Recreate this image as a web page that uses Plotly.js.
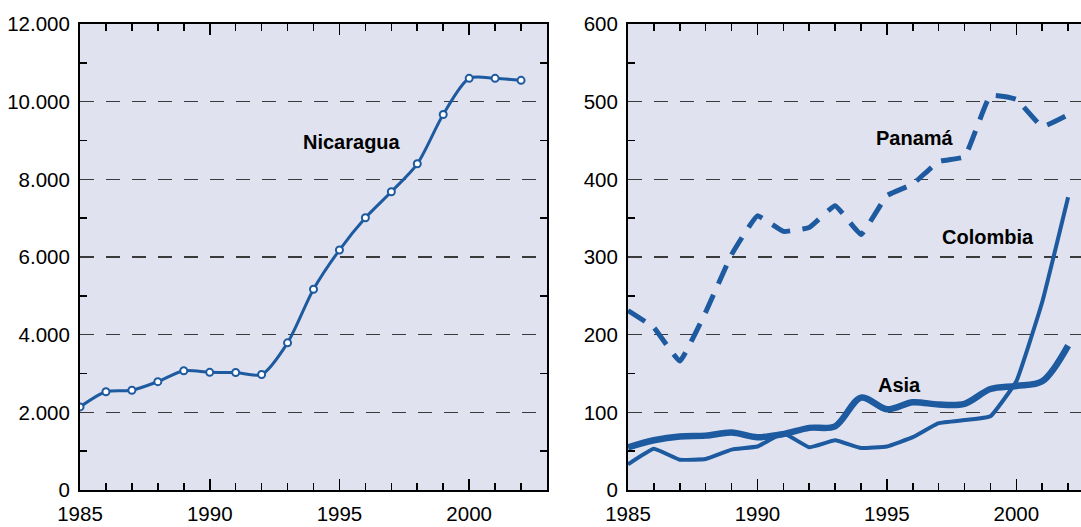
<!DOCTYPE html>
<html>
<head>
<meta charset="utf-8">
<script src="https://cdn.plot.ly/plotly-3.0.1.min.js"></script>
<style>
html,body{margin:0;padding:0;overflow:hidden;background:#fff;}
#chart{width:1100px;height:527px;}
</style>
</head>
<body>
<div id="chart"></div>
<script>
const years = [1985,1986,1987,1988,1989,1990,1991,1992,1993,1994,1995,1996,1997,1998,1999,2000,2001,2002];
const nicaragua = [2140,2530,2570,2790,3070,3030,3025,2975,3790,5170,6180,7010,7680,8400,9670,10600,10600,10550];
const panama = [231,209,166,229,303,353,333,338,366,329,379,394,423,429,508,503,468,483];
const colombia = [33,53,39,40,52,56,73,55,64,54,56,68,86,90,95,140,242,377];
const asia = [55,64,69,70,74,68,72,80,82,119,104,113,110,111,130,134,140,186];
const labelsLeft = [{text:'Nicaragua', x:1995.5, y:8950}];
const labelsRight = [
  {text:'Panamá', x:1996.1, y:453},
  {text:'Colombia', x:1998.9, y:326},
  {text:'Asia', x:1995.5, y:135}
];

const BLUE = '#1d5aa0';
const W = 1100;
const font = {family:'Liberation Sans, Arial, sans-serif', size:20.5, color:'#000'};
const annFont = {family:'Liberation Sans, Arial, sans-serif', size:20, color:'#000', weight:'bold'};

const traces = [
  {x:years, y:nicaragua, xaxis:'x', yaxis:'y', mode:'lines+markers', type:'scatter',
   line:{color:BLUE, width:3, shape:'spline', smoothing:0.8},
   marker:{symbol:'circle', size:7, color:'#fff', line:{color:BLUE, width:2}}},
  {x:years, y:panama, xaxis:'x2', yaxis:'y2', mode:'lines', type:'scatter',
   line:{color:BLUE, width:5, dash:'20px,12px', shape:'spline', smoothing:0.3}},
  {x:years, y:colombia, xaxis:'x2', yaxis:'y2', mode:'lines', type:'scatter',
   line:{color:BLUE, width:4, shape:'spline', smoothing:0.3}},
  {x:years, y:asia, xaxis:'x2', yaxis:'y2', mode:'lines', type:'scatter',
   line:{color:BLUE, width:6.5, shape:'spline', smoothing:0.9}}
];

function xax(domain){
  return {domain:domain, range:[1985,2003], dtick:5, tick0:1985, ticks:'inside', ticklen:11, tickwidth:1.6,
    tickcolor:'#000', showline:true, linecolor:'#000', linewidth:2, mirror:'allticks',
    showgrid:false, zeroline:false, tickfont:font, ticklabelstandoff:4,
    minor:{dtick:1, tick0:1985, ticks:'inside', ticklen:7, tickwidth:1.6, tickcolor:'#000', showgrid:false}};
}
function yax(range, dtick, minorD, fmt){
  return {range:range, dtick:dtick, tick0:0, ticks:'',
    showline:true, linecolor:'#000', linewidth:2, mirror:'allticks',
    showgrid:true, gridcolor:'#3a3a3a', gridwidth:1.5, griddash:'14px,12px', zeroline:false,
    tickformat:fmt, tickfont:font, ticklabelstandoff:4, domain:[0,1],
    minor:{dtick:minorD, tick0:0, ticks:'inside', ticklen:7, tickwidth:1.6, tickcolor:'#000', showgrid:false}};
}

const ann = [];
labelsLeft.forEach(a=>ann.push({text:a.text, x:a.x, y:a.y, xref:'x', yref:'y', showarrow:false, font:annFont}));
labelsRight.forEach(a=>ann.push({text:a.text, x:a.x, y:a.y, xref:'x2', yref:'y2', showarrow:false, font:annFont}));

const layout = {
  width:W, height:527, separators:',.',
  margin:{l:0, r:0, t:24, b:37},
  paper_bgcolor:'#fff', plot_bgcolor:'#e0e2ef',
  showlegend:false,
  xaxis: Object.assign(xax([80/W, 547/W]), {anchor:'y'}),
  yaxis: Object.assign(yax([0,12000], 2000, 1000, ',d'), {anchor:'x'}),
  xaxis2: Object.assign(xax([628/W, 1094/W]), {anchor:'y2'}),
  yaxis2: Object.assign(yax([0,600], 100, 50, 'd'), {anchor:'x2'}),
  annotations: ann
};

Plotly.newPlot('chart', traces, layout, {staticPlot:true, displayModeBar:false});
</script>
</body>
</html>
